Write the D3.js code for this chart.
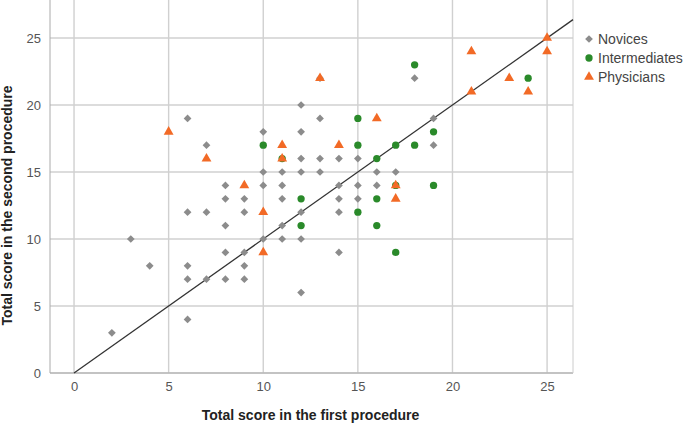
<!DOCTYPE html><html><head><meta charset="utf-8"><script src="https://cdn.jsdelivr.net/npm/d3@7"></script>
<style>body{margin:0;background:#fff}</style></head><body><svg id="c" width="685" height="425"></svg>
<script>
const novices=[[2,3],[3,10],[4,8],[6,19],[6,12],[6,8],[6,7],[6,4],[7,17],[7,12],[7,7],[8,14],[8,13],[8,11],[8,9],[8,7],[9,13],[9,12],[9,9],[9,8],[9,7],[10,18],[10,15],[10,14],[10,10],[11,15],[11,14],[11,13],[11,11],[11,10],[12,20],[12,18],[12,16],[12,15],[12,12],[12,10],[12,6],[13,22],[13,19],[13,16],[13,15],[14,16],[14,14],[14,13],[14,12],[14,9],[15,16],[15,14],[15,13],[16,15],[16,14],[17,15],[18,22],[19,19],[19,17]];
const intermediates=[[10,17],[11,16],[12,13],[12,11],[15,19],[19,18],[15,17],[17,17],[18,17],[16,16],[17,14],[19,14],[16,13],[15,12],[16,11],[17,9],[18,23],[24,22]];
const physicians=[[5,18],[7,16],[11,17],[11,16],[9,14],[10,12],[10,9],[13,22],[14,17],[16,19],[17,14],[17,13],[21,24],[25,25],[25,24],[23,22],[21,21],[24,21]];
const ticks=[0,5,10,15,20,25];
const svg=d3.select("#c");
const x=d3.scaleLinear().domain([-1.27,26.37]).range([50,573]);
const y=d3.scaleLinear().domain([0,25]).range([373,38]);
const g=svg.append("g");
ticks.forEach(t=>{g.append("line").attr("x1",x(t)).attr("x2",x(t)).attr("y1",0).attr("y2",373).attr("stroke","#d0d0d0").attr("stroke-width",1.4);
g.append("line").attr("x1",50).attr("x2",573).attr("y1",y(t)).attr("y2",y(t)).attr("stroke","#d0d0d0").attr("stroke-width",1.4);});
g.append("line").attr("x1",50).attr("x2",50).attr("y1",0).attr("y2",373).attr("stroke","#aaa");
g.append("line").attr("x1",50).attr("x2",573).attr("y1",373).attr("y2",373).attr("stroke","#aaa");
g.append("line").attr("x1",573).attr("x2",573).attr("y1",0).attr("y2",373).attr("stroke","#ccc");
const xa=svg.append("g").attr("transform","translate(0,373)").call(d3.axisBottom(x).tickValues(ticks).tickSize(0).tickPadding(9));
const ya=svg.append("g").attr("transform","translate(50,0)").call(d3.axisLeft(y).tickValues(ticks).tickSize(0).tickPadding(9));
[xa,ya].forEach(a=>{a.select(".domain").remove();a.selectAll("text").attr("font-family","Liberation Sans, Arial").attr("font-size",13).attr("fill","#555");});
svg.append("line").attr("x1",x(0)).attr("y1",y(0)).attr("x2",x(26.37)).attr("y2",y(26.37)).attr("stroke","#333").attr("stroke-width",1.3);
const dia=d3.symbol().type(d3.symbolSquare).size(30), cir=d3.symbol().type(d3.symbolCircle).size(42), tri=d3.symbol().type(d3.symbolTriangle).size(42);
function pts(data,sym,col,rot){svg.append("g").selectAll("path").data(data).join("path").attr("d",sym).attr("fill",col)
 .attr("transform",d=>`translate(${x(d[0])},${y(d[1])}) rotate(${rot})`);}
pts(novices,dia,"#8c8c8c",45);pts(intermediates,cir,"#2a8a2a",0);pts(physicians,tri,"#f26a26",0);
const leg=[["Novices",dia,"#8c8c8c",45],["Intermediates",cir,"#2a8a2a",0],["Physicians",tri,"#f26a26",0]];
leg.forEach((l,i)=>{const yy=39+i*19;svg.append("path").attr("d",l[1]).attr("fill",l[2]).attr("transform",`translate(589,${yy}) rotate(${l[3]})`);
svg.append("text").attr("x",598).attr("y",yy+5).text(l[0]).attr("font-family","Liberation Sans, Arial").attr("font-size",14).attr("fill","#444");});
svg.append("text").attr("x",x(12.5)).attr("y",420).attr("text-anchor","middle").attr("font-family","Liberation Sans, Arial").attr("font-weight","bold").attr("font-size",14).attr("fill","#222").text("Total score in the first procedure");
svg.append("text").attr("transform",`translate(12,${y(12.5)}) rotate(-90)`).attr("text-anchor","middle").attr("font-family","Liberation Sans, Arial").attr("font-weight","bold").attr("font-size",14).attr("fill","#222").text("Total score in the second procedure");
</script></body></html>
